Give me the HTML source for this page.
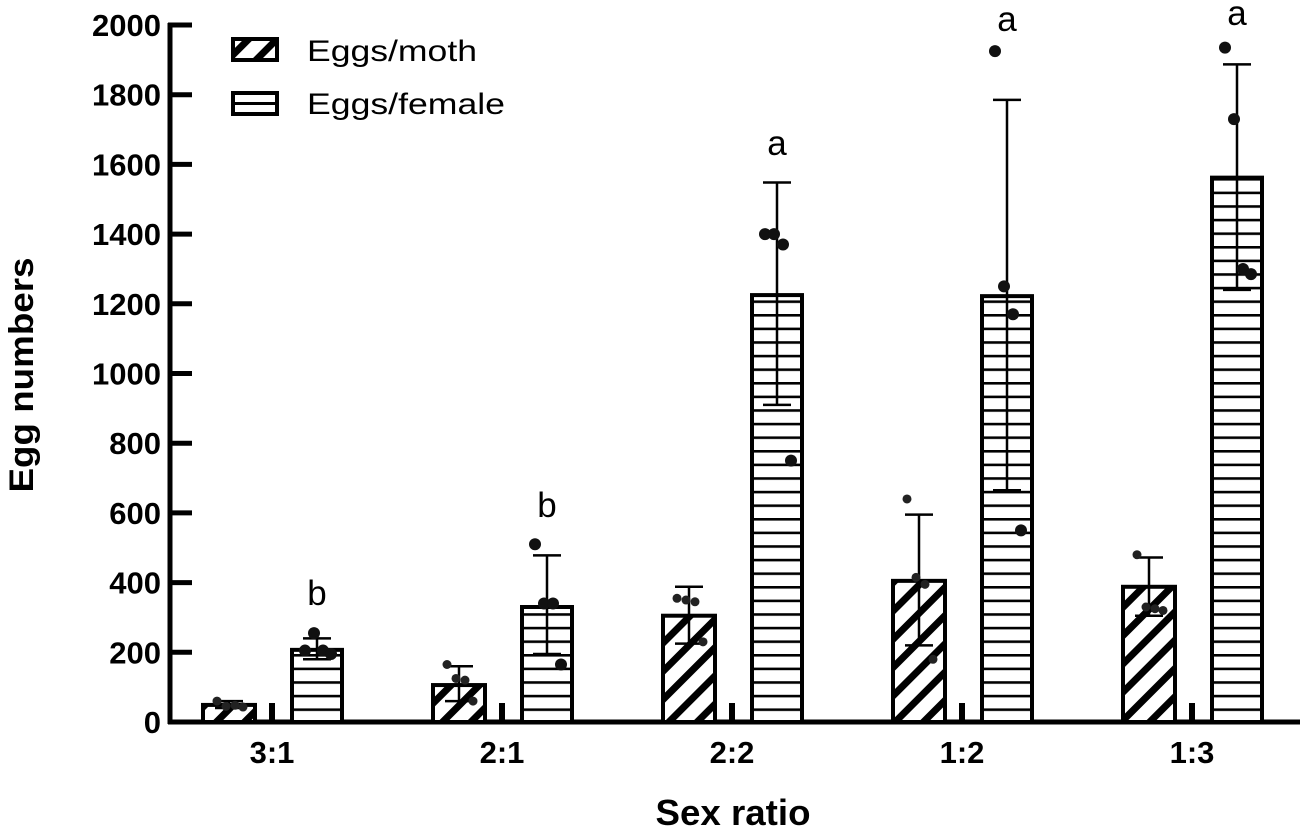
<!DOCTYPE html>
<html><head><meta charset="utf-8"><style>
html,body{margin:0;padding:0;background:#fff;}
svg{display:block;font-family:"Liberation Sans",Arial,sans-serif;}
</style></head><body>
<svg id="chart" width="1300" height="833" viewBox="0 0 1300 833" xmlns="http://www.w3.org/2000/svg">
<defs>
<pattern id="hatch" patternUnits="userSpaceOnUse" width="20" height="20" patternTransform="rotate(45)">
<rect width="20" height="20" fill="#fff"/><rect x="0" y="0" width="7" height="20" fill="#000"/>
</pattern>
<pattern id="hlines" patternUnits="userSpaceOnUse" x="0" y="722" width="20" height="13.6">
<rect width="20" height="13.6" fill="#fff"/><rect x="0" y="0" width="20" height="2.6" fill="#000"/>
</pattern>
</defs>
<g id="plot"></g>
<text x="0" y="0" transform="translate(33,375) rotate(-90)" text-anchor="middle" font-size="34" font-weight="bold" textLength="235" lengthAdjust="spacingAndGlyphs">Egg numbers</text>
<text x="733" y="825" text-anchor="middle" font-size="36" font-weight="bold" textLength="155" lengthAdjust="spacingAndGlyphs">Sex ratio</text>
<g>
<rect x="233" y="39" width="44" height="21" fill="url(#hatch)" stroke="#000" stroke-width="4"/>
<text x="307" y="61" font-size="30" textLength="170" lengthAdjust="spacingAndGlyphs">Eggs/moth</text>
<rect x="233" y="93" width="44" height="21" fill="#fff" stroke="#000" stroke-width="4"/>
<line x1="233" y1="103.5" x2="277" y2="103.5" stroke="#000" stroke-width="3"/>
<text x="307" y="114" font-size="30" textLength="198" lengthAdjust="spacingAndGlyphs">Eggs/female</text>
</g>
</svg>
<script>
const categories = ["3:1","2:1","2:2","1:2","1:3"];
const mothMean = [49,106,305,405,388];
const mothUpper = [60,160,388,595,472];
const mothLower = [40,60,225,220,305];
const mothDots = [[60,45,48,43],[165,125,120,60],[355,350,345,230],[640,415,395,180],[480,330,325,320]];
const femaleMean = [207,330,1225,1222,1562];
const femaleUpper = [240,478,1548,1785,1887];
const femaleLower = [180,195,910,665,1240];
const femaleDots = [[205,255,205,195],[510,340,340,165],[1400,1400,1370,750],[1925,1250,1170,550],[1935,1730,1300,1285]];
const letters = ["b","b","a","a","a"];
const letterValues = [336,588,1627,1983,2000];
const yTicks = [0,200,400,600,800,1000,1200,1400,1600,1800,2000];

const NS="http://www.w3.org/2000/svg";
const g=document.getElementById('plot');
const y0=722, yTop=25;
function ys(v){return y0-(v/2000)*(y0-yTop);}
function xs(i){return 272+i*230;}
function mk(tag,attrs,parent){const e=document.createElementNS(NS,tag);for(const k in attrs)e.setAttribute(k,attrs[k]);(parent||g).appendChild(e);return e;}

let ax=mk('line',{x1:170,y1:yTop-2,x2:170,y2:y0+2,stroke:'#000','stroke-width':5});


yTicks.forEach(t=>{
  const tk=mk('line',{x1:168,y1:ys(t),x2:192,y2:ys(t),stroke:'#000','stroke-width':5});
  
  
  const tl=mk('text',{x:161,y:ys(t)+11,'text-anchor':'end','font-size':31,'font-weight':'bold'});
  tl.textContent=t;
  
  
});
let xa=mk('line',{x1:168,y1:y0,x2:1300,y2:y0,stroke:'#000','stroke-width':5});



const jit=[-12,-3,6,14];
categories.forEach((c,i)=>{
  const cx=xs(i);
  const tk=mk('rect',{x:cx-3,y:y0-19,width:6,height:19,fill:'#000'});
  
  
  const lb=mk('text',{x:cx,y:763,'text-anchor':'middle','font-size':31,'font-weight':'bold'});
  lb.textContent=c;
  
  
  const mx=cx-43;
  const mb=mk('rect',{x:mx-26,y:ys(mothMean[i]),width:52,height:y0-ys(mothMean[i]),fill:'url(#hatch)',stroke:'#000','stroke-width':4});
  
  
  drawErr(mx,mothUpper[i],mothLower[i],'moth-'+c);
  mothDots[i].forEach((d,j)=>{
    const p=mk('circle',{cx:mx+jit[j],cy:ys(d),r:4.5,fill:'#222'});
    
    
  });
  const fx=cx+45;
  const fb=mk('rect',{x:fx-25,y:ys(femaleMean[i]),width:50,height:y0-ys(femaleMean[i]),fill:'url(#hlines)',stroke:'#000','stroke-width':4});
  
  
  drawErr(fx,femaleUpper[i],femaleLower[i],'female-'+c);
  femaleDots[i].forEach((d,j)=>{
    const p=mk('circle',{cx:fx+jit[j],cy:ys(d),r:6,fill:'#111'});
    
    
  });
  const lt=mk('text',{x:fx,y:ys(letterValues[i]),'text-anchor':'middle','font-size':35});
  lt.textContent=letters[i];
  
  
});
function drawErr(x,u,l,name){
  const eg=mk('g',{stroke:'#000','stroke-width':2.5});
  
  
  mk('line',{x1:x,y1:ys(u),x2:x,y2:ys(l)},eg);
  mk('line',{x1:x-14,y1:ys(u),x2:x+14,y2:ys(u)},eg);
  mk('line',{x1:x-14,y1:ys(l),x2:x+14,y2:ys(l)},eg);
}
</script>
</body></html>
